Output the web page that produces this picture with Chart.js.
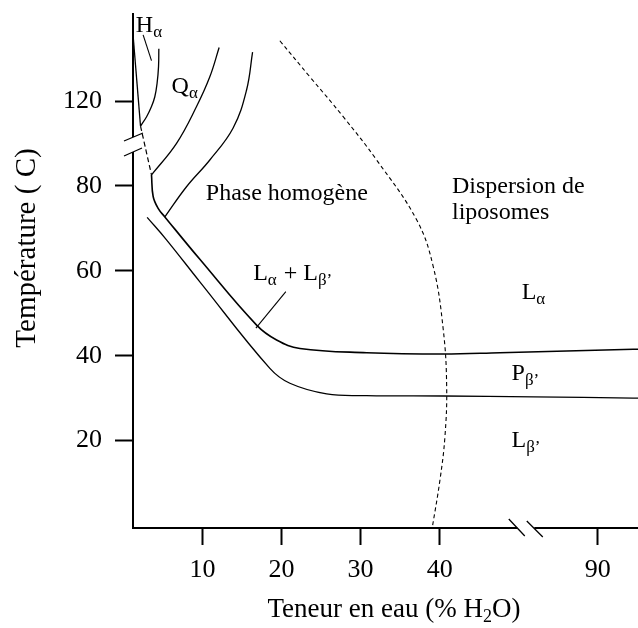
<!DOCTYPE html>
<html><head><meta charset="utf-8">
<script src="https://cdn.jsdelivr.net/npm/chart.js@4/dist/chart.umd.min.js"></script>
<style>html,body{margin:0;padding:0;background:#fff}#wrap{width:638px;height:628px;position:relative}canvas{display:block}</style>
</head><body><div id="wrap"><canvas id="c" width="638" height="628"></canvas></div>
<script>
// ---- tick labels (real values) ----
const xTickValues = [10, 20, 30, 40, 90];
const yTickValues = [20, 40, 60, 80, 120];

// ---- boundary curves: water content (% H2O) and temperature (°C) ----
const hLeftW = [1.24, 2.15];
const hLeftT = [134.8, 112.3];
const hRightW = [2.15, 2.92, 3.54, 3.96, 4.25, 4.43, 4.47];
const hRightT = [112.3, 116.3, 118.7, 121.0, 124.2, 128.1, 132.3];
const hLeaderW = [2.48, 3.54];
const hLeaderT = [135.6, 129.5];
const dashLeftW = [2.15, 3.54];
const dashLeftT = [112.3, 82.6];
const qLeftW = [3.54, 6.71, 9.24, 10.92, 12.10];
const qLeftT = [82.6, 100.1, 118.7, 125.7, 132.6];
const qRightW = [5.23, 7.97, 10.92, 13.87, 15.57, 16.33];
const qRightT = [72.7, 79.8, 88.3, 110.9, 122.6, 131.5];
const upperW = [3.54, 3.75, 4.38, 5.23, 9.66, 16.84, 19.37, 22.32, 30.76, 40.46, 55.5, 94.5, 95.1];
const upperT = [82.6, 77.5, 74.7, 72.7, 62.7, 47.2, 43.7, 41.7, 40.7, 40.4, 40.7, 41.5, 41.5];
const lowerW = [2.99, 5.44, 9.66, 18.52, 21.05, 25.70, 30.76, 40.46, 72.4, 94.5, 95.1];
const lowerT = [72.6, 67.3, 57.4, 37.0, 33.5, 31.0, 30.6, 30.5, 30.3, 30.0, 30.0];
const dashRightW = [19.78, 23.58, 27.80, 32.03, 37.09, 39.19, 40.46, 40.89, 40.67, 40.04, 39.06];
const dashRightT = [134.2, 125.7, 116.3, 88.3, 72.0, 61.0, 46.1, 32.7, 20.9, 10.7, -0.6];
const lLeaderW = [20.54, 16.75];
const lLeaderT = [55.1, 46.5];

// ---- region labels: [text, isSubscript] pieces, anchored baseline-left ----
const labelParts = [
  [['H',0],['α',1]],
  [['Q',0],['α',1]],
  [['Phase homogène',0]],
  [['Dispersion de',0]],
  [['liposomes',0]],
  [['L',0],['α',1],[' + L',0],['β\u2019',1]],
  [['L',0],['α',1]],
  [['P',0],['β\u2019',1]],
  [['L',0],['β\u2019',1]]
];
const labelW = [1.56, 6.08, 10.42, 41.56, 41.56, 16.4, 66.5, 61.4, 61.4];
const labelT = [136.3, 121.9, 76.7, 78.3, 72.2, 57.8, 53.4, 34.3, 18.6];

// ---- broken-axis mapping (real value -> axis position) ----
function dispX(w){ if (w <= 45) return w; if (w >= 85) return w - 30; return 45 + (w - 45) * 0.25; }
function dispY(t){ if (t <= 85) return t; if (t >= 115) return t - 20; return 85 + (t - 85) / 3; }
const xBreak = 50.9, yBreak = 89.75;

function pts(W, T){ return W.map((w,i)=>({x: dispX(w), y: dispY(T[i])})); }
function ds(W, T, opt){ return Object.assign({data: pts(W,T), showLine:true, pointRadius:0, borderColor:'#000', borderWidth:1.3, fill:false, tension:0.4}, opt||{}); }

const FONT = '"Liberation Serif", "Times New Roman", serif';

const decorPlugin = {
  id:'decor',
  afterDraw(chart){
    const ctx = chart.ctx, xs = chart.scales.x, ys = chart.scales.y, ca = chart.chartArea;
    ctx.save();
    // y-axis break
    const yc = ys.getPixelForValue(yBreak);
    ctx.fillStyle = '#fff';
    ctx.fillRect(ca.left - 3, yc - 7.5, 6, 15);
    ctx.strokeStyle = '#000'; ctx.lineWidth = 1.3;
    ctx.beginPath();
    ctx.moveTo(ca.left - 9, yc - 3.5); ctx.lineTo(ca.left + 10, yc - 11.5);
    ctx.moveTo(ca.left - 9, yc + 11.5); ctx.lineTo(ca.left + 9, yc + 3.5);
    ctx.stroke();
    // x-axis break
    const xc = xs.getPixelForValue(xBreak), yb = ca.bottom;
    ctx.fillStyle = '#fff';
    ctx.fillRect(xc - 8.5, yb - 3, 17, 6);
    ctx.beginPath();
    ctx.moveTo(xc - 17, yb - 9); ctx.lineTo(xc - 1, yb + 8);
    ctx.moveTo(xc + 1, yb - 7); ctx.lineTo(xc + 17, yb + 9);
    ctx.stroke();
    // region labels
    ctx.fillStyle = '#000'; ctx.textBaseline = 'alphabetic'; ctx.textAlign = 'left';
    labelParts.forEach((parts, i) => {
      let x = xs.getPixelForValue(dispX(labelW[i]));
      const y = ys.getPixelForValue(dispY(labelT[i]));
      parts.forEach(([t, sub]) => {
        ctx.font = (sub ? 17 : 24) + 'px ' + FONT;
        ctx.fillText(t, x, y + (sub ? 5 : 0));
        x += ctx.measureText(t).width + (sub ? 1 : 0);
      });
    });
    // axis titles
    ctx.font = '29px ' + FONT;
    ctx.save();
    ctx.translate(35, 248); ctx.rotate(-Math.PI/2);
    ctx.textAlign = 'center';
    ctx.fillText('Température ( C)', 0, 0);
    ctx.restore();
    const xt = [['Teneur en eau (% H',0],['2',1],['O)',0]];
    let total = 0;
    xt.forEach(([t,s])=>{ ctx.font=(s?18:27)+'px '+FONT; total += ctx.measureText(t).width; });
    let x0 = 394 - total/2;
    xt.forEach(([t,s])=>{ ctx.font=(s?18:27)+'px '+FONT; ctx.fillText(t, x0, 617 + (s?5:0)); x0 += ctx.measureText(t).width; });
    ctx.restore();
  }
};

new Chart(document.getElementById('c'), {
  type: 'scatter',
  data: { datasets: [
    ds(hLeftW, hLeftT, {tension:0}),
    ds(hRightW, hRightT),
    ds(hLeaderW, hLeaderT, {tension:0, borderWidth:1.1}),
    ds(dashLeftW, dashLeftT, {tension:0, borderDash:[5,3], borderWidth:1.2}),
    ds(qLeftW, qLeftT),
    ds(qRightW, qRightT),
    ds(upperW, upperT, {borderWidth:1.6}),
    ds(lowerW, lowerT, {borderWidth:1.3}),
    ds(dashRightW, dashRightT, {borderDash:[4,3], borderWidth:1.1}),
    ds(lLeaderW, lLeaderT, {tension:0, borderWidth:1.1})
  ]},
  options: {
    responsive: false, maintainAspectRatio: false, animation: false, devicePixelRatio: 1,
    layout: { padding: { top: 14, right: 0, left: 0, bottom: 0 } },
    plugins: { legend: {display:false}, tooltip: {enabled:false} },
    scales: {
      x: {
        type:'linear', min: 1.2, max: 65.1,
        afterBuildTicks: s => { s.ticks = xTickValues.map(v => ({value: dispX(v)})); },
        afterFit: s => { s.height = 100; s.paddingLeft = 0; s.paddingRight = 0; s.paddingTop = 0; s.paddingBottom = 0; },
        ticks: { callback: (v, i) => String(xTickValues[i]), font:{family:FONT, size:26}, color:'#000', padding:10, maxRotation:0, autoSkip:false },
        grid: { display:true, drawOnChartArea:false, drawTicks:true, tickLength:17, tickWidth:2, tickColor:'#000', color:'#000' },
        border: { display:true, color:'#000', width:2 }
      },
      y: {
        type:'linear', min: -0.6, max: 120.5,
        afterBuildTicks: s => { s.ticks = yTickValues.map(v => ({value: dispY(v)})); },
        afterFit: s => { s.width = 133; s.paddingLeft = 0; s.paddingRight = 0; s.paddingTop = 0; s.paddingBottom = 0; },
        ticks: { callback: (v, i) => String(yTickValues[i]), font:{family:FONT, size:26}, color:'#000', padding:13, autoSkip:false },
        grid: { display:true, drawOnChartArea:false, drawTicks:true, tickLength:18, tickWidth:2, tickColor:'#000', color:'#000' },
        border: { display:true, color:'#000', width:2 }
      }
    }
  },
  plugins: [decorPlugin]
});
</script>
</body></html>
